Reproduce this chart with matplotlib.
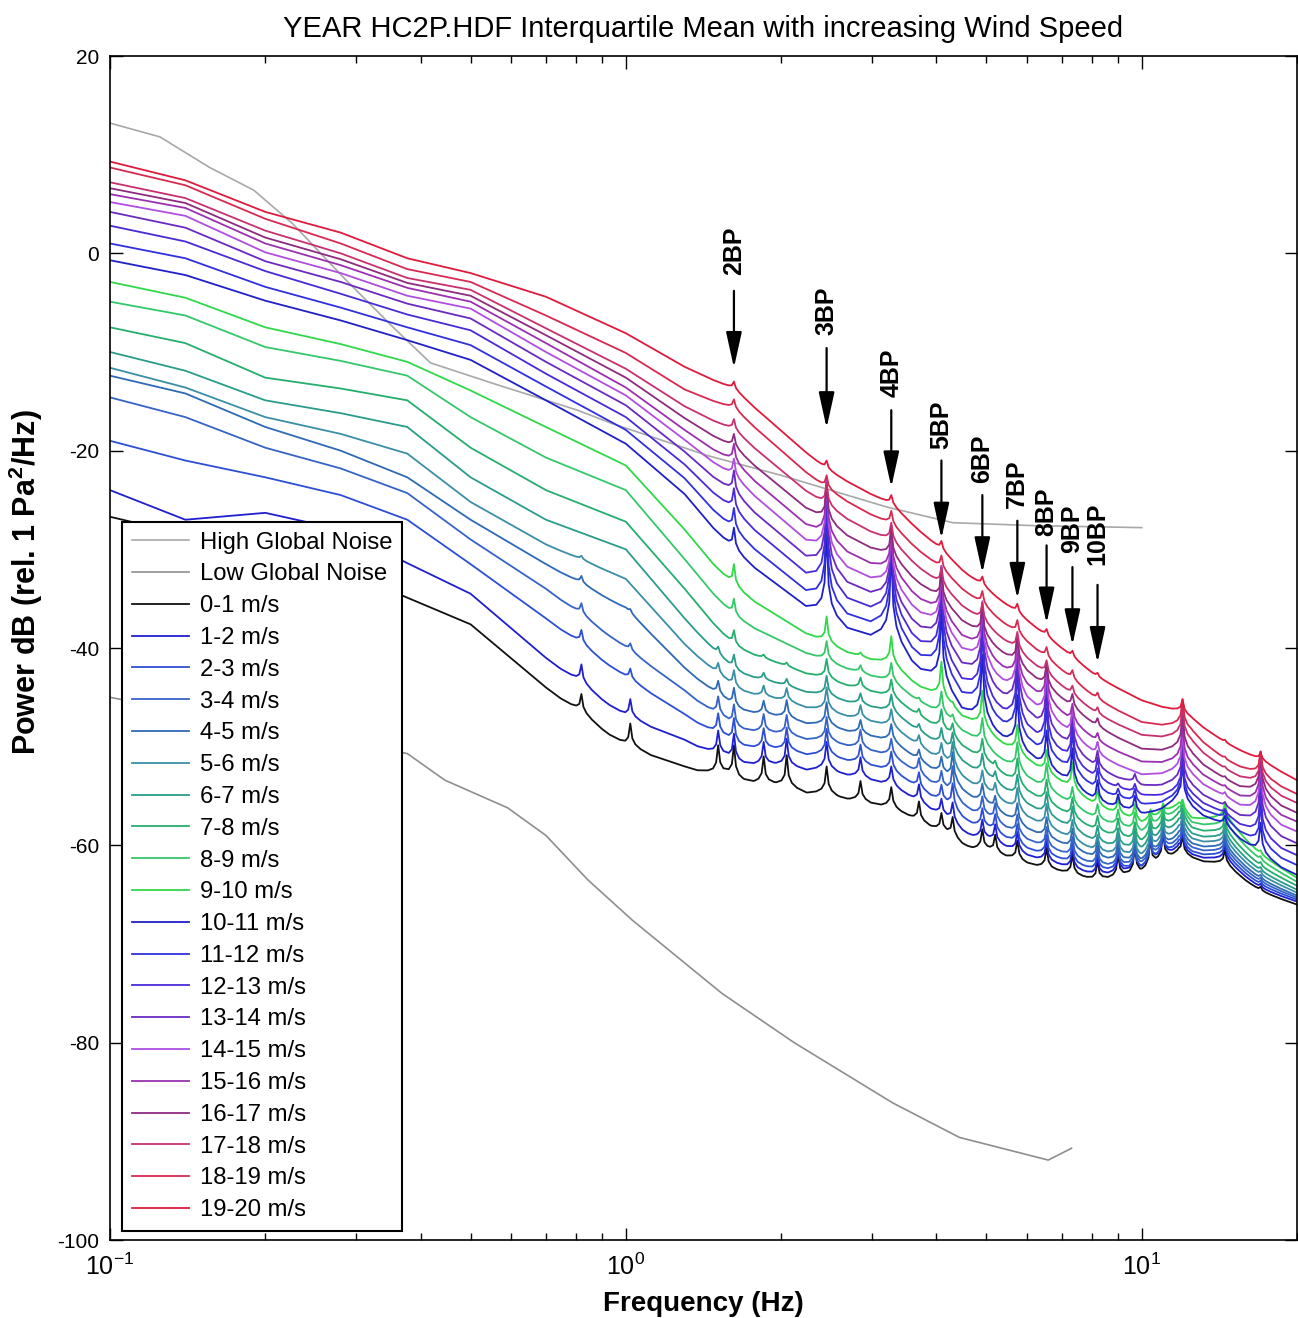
import numpy as np
import matplotlib
matplotlib.use('Agg')
import matplotlib.pyplot as plt

plt.rcParams['font.family'] = ['Liberation Sans', 'DejaVu Sans']
plt.rcParams['mathtext.fontset'] = 'custom'
plt.rcParams['mathtext.rm'] = 'Liberation Sans'
plt.rcParams['mathtext.bf'] = 'Liberation Sans:bold'
plt.rcParams['mathtext.it'] = 'Liberation Sans:italic'
plt.rcParams['axes.unicode_minus'] = False

# ---------------- data ----------------
# frequency grid (Hz) shared by all wind-speed curves
freq = [0.1, 0.14, 0.2, 0.28, 0.377, 0.5, 0.7, 1.0, 1.3, 1.62, 2.45,
        3.27, 4.6, 6.0, 8.2, 10.0, 11.8, 12.5, 14.5, 17.0, 20.0]

wind_labels = ['%d-%d m/s' % (i, i + 1) for i in range(20)]
wind_colors = ['#111111', '#1f1fd0', '#2d4fd6', '#3563c8', '#2e6ab5',
               '#3a8fa6', '#2a9d8a', '#25ae6e', '#34c86a', '#30d84a',
               '#2020c8', '#3030e0', '#4a2ad8', '#6a2ac0', '#b04ee0',
               '#9a30b0', '#8e2a80', '#c8306e', '#d82a50', '#e01a3c']

# base level (dB) of each wind-speed curve on the grid above, 0-1 m/s first
wind_db = [
    [-26.7, -28.5, -30.0, -32.0, -34.9, -37.6, -44.0, -50.0, -52.0, -53.5, -55.0, -56.3, -60.3, -62.0, -63.8, -63.3, -61.0, -61.4, -62.0, -64.7, -66.0],
    [-24.0, -27.0, -26.3, -28.0, -31.4, -34.5, -41.0, -47.0, -49.3, -51.8, -52.5, -54.0, -59.0, -61.2, -63.3, -63.0, -60.6, -61.1, -61.5, -64.4, -65.7],
    [-19.0, -21.0, -22.7, -24.5, -27.0, -31.5, -37.0, -43.0, -46.7, -50.0, -51.0, -52.5, -57.7, -60.5, -62.8, -62.8, -60.2, -60.8, -61.1, -64.1, -65.5],
    [-14.6, -16.6, -19.7, -21.8, -24.3, -29.0, -34.0, -40.0, -44.3, -48.3, -49.5, -51.0, -56.4, -59.6, -62.3, -62.4, -59.8, -60.4, -60.7, -63.8, -65.3],
    [-12.4, -14.2, -17.6, -20.0, -22.7, -27.0, -31.5, -36.0, -42.0, -46.3, -48.0, -49.5, -55.0, -58.5, -61.6, -62.0, -59.3, -60.0, -60.3, -63.5, -65.1],
    [-11.6, -13.6, -16.6, -18.3, -20.3, -25.2, -29.5, -33.0, -39.6, -44.3, -46.5, -48.0, -53.6, -57.3, -60.9, -61.5, -58.7, -59.5, -59.8, -63.1, -64.8],
    [-10.0, -11.9, -14.9, -16.2, -17.6, -22.7, -27.0, -30.0, -37.0, -42.5, -45.0, -46.5, -52.0, -56.0, -60.0, -60.8, -58.0, -59.0, -59.3, -62.7, -64.5],
    [-7.5, -9.1, -12.6, -13.7, -14.9, -19.7, -24.0, -27.2, -34.0, -40.0, -43.3, -45.0, -50.4, -54.7, -58.8, -60.0, -57.3, -58.4, -58.7, -62.2, -64.1],
    [-4.9, -6.3, -9.5, -10.9, -12.4, -16.6, -20.7, -24.0, -31.0, -37.0, -41.5, -43.5, -48.8, -53.3, -57.6, -59.0, -56.6, -57.8, -58.0, -61.6, -63.7],
    [-2.9, -4.5, -7.5, -9.2, -11.0, -13.9, -17.6, -21.5, -28.0, -34.0, -39.8, -41.8, -47.3, -51.5, -56.3, -58.0, -56.0, -57.3, -57.2, -61.0, -63.3],
    [-0.7, -2.2, -4.8, -6.8, -8.8, -10.8, -14.9, -19.3, -24.4, -30.3, -37.3, -39.3, -46.6, -51.0, -55.9, -57.0, -55.6, -56.4, -58.0, -61.2, -63.0],
    [1.0, -0.5, -3.4, -5.5, -7.5, -9.3, -13.5, -17.9, -22.8, -28.3, -35.8, -38.0, -45.0, -49.7, -54.7, -56.0, -55.2, -55.8, -57.4, -60.3, -62.0],
    [2.8, 1.2, -1.8, -4.1, -6.2, -7.8, -12.2, -16.6, -21.4, -26.3, -34.1, -36.6, -43.6, -48.5, -53.6, -55.0, -54.7, -55.1, -56.8, -59.3, -61.0],
    [4.2, 2.6, -0.8, -2.9, -5.1, -6.6, -11.0, -15.4, -20.1, -24.5, -32.4, -35.2, -42.0, -47.0, -52.4, -54.0, -53.7, -54.2, -56.1, -58.1, -59.8],
    [5.2, 3.8, 0.1, -2.0, -4.3, -5.6, -10.0, -14.4, -18.9, -22.8, -30.8, -33.8, -40.5, -45.6, -51.0, -52.8, -52.6, -53.1, -55.1, -57.0, -58.6],
    [6.0, 4.6, 1.0, -1.2, -3.5, -4.9, -9.1, -13.6, -17.9, -21.3, -29.2, -32.4, -39.2, -44.1, -49.6, -51.5, -51.6, -52.1, -54.2, -56.0, -57.6],
    [6.6, 5.1, 1.6, -0.6, -3.0, -4.3, -8.3, -12.6, -16.7, -19.8, -27.5, -30.9, -37.7, -42.6, -48.1, -50.2, -50.4, -51.0, -53.3, -55.0, -56.7],
    [7.2, 5.6, 2.3, 0.0, -2.5, -3.7, -7.6, -11.7, -15.5, -18.0, -25.8, -29.3, -36.2, -41.2, -46.8, -48.8, -49.1, -49.7, -52.3, -54.0, -55.7],
    [8.7, 6.9, 3.5, 1.0, -1.6, -2.9, -6.3, -10.1, -13.8, -15.8, -24.0, -27.6, -34.5, -39.5, -45.3, -47.5, -48.0, -48.6, -51.3, -53.0, -54.8],
    [9.3, 7.4, 4.2, 2.1, -0.5, -2.0, -4.4, -8.1, -11.5, -13.8, -22.0, -25.5, -32.6, -37.3, -43.0, -45.3, -46.5, -47.2, -49.6, -51.4, -53.4],
]

# narrow spectral peaks: frequency (Hz) and height above the curve (dB) for each wind bin
peak_freq = [0.82, 1.02, 1.51, 1.62, 1.85, 2.05, 2.45, 2.85, 3.27, 3.7, 4.09, 4.3,
             4.91, 5.2, 5.74, 6.54, 7.34, 8.21, 9.0, 9.7, 10.4, 11.0, 12.0, 14.5, 17.0]
peak_db = [
    [2.0, 2.0, 1.5, 1.2, 0.8, 0.4, 0, 0, 0, 0, 0, 0, 0, 0, 0, 0, 0, 0, 0, 0],
    [2.5, 2.0, 1.2, 0.8, 0.4, 0, 0, 0, 0, 0, 0, 0, 0, 0, 0, 0, 0, 0, 0, 0],
    [3.0, 2.5, 2.2, 2.0, 1.5, 1.2, 0.8, 0, 0, 0, 0, 0, 0, 0, 0, 0, 0, 0, 0, 0],
    [3.5, 3.0, 2.8, 2.5, 2.2, 2.0, 1.8, 1.8, 2.0, 2.5, 2.5, 2.5, 2.5, 2.5, 2.0, 2.0, 1.5, 1.2, 1.0, 0.8],
    [3.0, 2.5, 2.2, 2.0, 1.5, 1.2, 0.8, 0.4, 0, 0, 0, 0, 0, 0, 0, 0, 0, 0, 0, 0],
    [3.5, 3.0, 2.5, 2.2, 2.0, 1.5, 0.8, 0.4, 0, 0, 0, 0, 0, 0, 0, 0, 0, 0, 0, 0],
    [3.0, 3.0, 2.8, 2.5, 2.5, 2.5, 2.2, 2.2, 2.2, 3.0, 9.0, 10.0, 10.5, 9.5, 8.0, 6.0, 4.0, 2.5, 1.5, 1.0],
    [2.2, 2.2, 2.0, 2.0, 1.5, 1.5, 1.2, 1.2, 0.8, 0.4, 0, 0, 0, 0, 0, 0, 0, 0, 0, 0],
    [2.2, 2.0, 2.0, 1.8, 1.8, 1.8, 1.8, 1.8, 2.0, 3.0, 9.0, 9.5, 9.0, 7.5, 6.0, 4.5, 3.0, 2.0, 1.5, 1.0],
    [2.2, 2.0, 1.8, 1.8, 1.2, 1.2, 0.8, 0.8, 0.4, 0, 0, 0, 0, 0, 0, 0, 0, 0, 0, 0],
    [2.0, 1.8, 1.8, 1.8, 1.8, 1.8, 1.8, 2.2, 2.5, 4.0, 8.0, 9.0, 9.0, 8.0, 6.5, 5.0, 3.0, 2.0, 1.5, 1.0],
    [2.2, 2.2, 2.8, 3.2, 3.2, 2.8, 2.2, 1.5, 0.8, 0.4, 0, 0, 0, 0, 0, 0, 0, 0, 0, 0],
    [2.2, 2.0, 2.0, 2.0, 2.0, 2.0, 2.2, 2.2, 2.8, 4.0, 7.0, 8.0, 8.0, 7.5, 6.5, 5.0, 3.0, 2.0, 1.5, 1.0],
    [2.0, 2.0, 2.0, 2.0, 1.5, 1.5, 1.2, 0.8, 0, 0, 0, 0, 0, 0, 0, 0, 0, 0, 0, 0],
    [2.2, 2.2, 2.2, 2.2, 2.2, 2.5, 2.5, 2.8, 3.0, 3.0, 5.5, 6.5, 7.0, 7.0, 6.0, 4.5, 3.0, 2.0, 1.5, 1.0],
    [2.2, 2.2, 2.2, 2.2, 2.2, 2.5, 2.5, 2.5, 2.8, 2.5, 4.0, 5.0, 5.5, 5.5, 5.0, 4.0, 2.5, 1.5, 1.2, 0.8],
    [2.2, 2.2, 2.2, 2.2, 2.2, 2.2, 2.5, 2.2, 2.0, 3.0, 4.0, 4.5, 4.5, 4.0, 3.0, 2.0, 1.5, 1.0, 1.0, 0.7],
    [2.2, 2.2, 2.2, 2.2, 2.2, 2.0, 2.0, 1.8, 1.8, 2.0, 2.5, 2.5, 2.5, 2.0, 1.5, 1.0, 1.0, 0.8, 0.8, 0.5],
    [2.5, 2.5, 2.5, 2.2, 2.2, 2.2, 2.0, 2.0, 1.8, 1.8, 1.5, 1.0, 0.5, 0, 0, 0, 0, 0, 0, 0],
    [3.0, 3.0, 2.5, 2.5, 2.2, 2.2, 2.2, 2.0, 2.0, 1.8, 1.8, 1.5, 1.0, 1.0, 0, 0, 0, 0, 0, 0],
    [3.0, 3.0, 2.5, 2.5, 2.2, 2.2, 2.0, 1.8, 1.5, 1.0, 0, 0, 0, 0, 0, 0, 0, 0, 0, 0],
    [3.0, 3.0, 2.5, 2.5, 2.2, 2.2, 2.0, 1.8, 1.5, 1.0, 0, 0, 0, 0, 0, 0, 0, 0, 0, 0],
    [2.0, 2.0, 2.0, 2.0, 2.0, 2.0, 2.0, 2.0, 1.5, 1.0, 4.0, 4.0, 4.0, 4.0, 4.0, 4.0, 4.0, 3.5, 3.0, 1.5],
    [1.5, 1.5, 1.5, 1.5, 1.5, 1.5, 1.5, 1.5, 1.5, 1.5, 1.0, 1.0, 0.5, 0.5, 0.5, 0.3, 0.3, 0.3, 0.3, 0.3],
    [0.5, 0.5, 0.5, 0.5, 0.5, 0.5, 0.5, 0.5, 0.5, 0.5, 3.5, 4.5, 5.0, 5.5, 5.5, 5.0, 4.5, 3.5, 2.5, 0.8],
]

# global noise models
high_noise_f = [0.1, 0.125, 0.156, 0.19, 0.226, 0.283, 0.354, 0.418, 0.554, 0.806, 0.935, 1.44, 2.0, 3.2, 4.3, 6.2, 10.0]
high_noise_db = [13.2, 11.8, 8.7, 6.4, 3.0, -2.4, -7.5, -11.1, -13.2, -15.9, -17.2, -20.5, -22.5, -25.7, -27.3, -27.6, -27.8]
low_noise_f = [0.1, 0.2, 0.377, 0.446, 0.59, 0.7, 0.844, 1.03, 1.535, 2.12, 3.29, 4.43, 6.59, 7.31]
low_noise_db = [-45.0, -48.0, -50.7, -53.4, -56.2, -59.0, -63.5, -67.6, -75.0, -80.0, -86.1, -89.6, -91.9, -90.7]

# blade-pass annotations
bp_labels = ['2BP', '3BP', '4BP', '5BP', '6BP', '7BP', '8BP', '9BP', '10BP']
bp_freq = [1.62, 2.45, 3.27, 4.09, 4.91, 5.74, 6.54, 7.34, 8.21]
bp_text_db = [-2.2, -8.3, -14.6, -19.8, -23.3, -25.8, -28.6, -30.4, -31.6]
bp_tail_db = [-3.8, -9.6, -15.9, -21.0, -24.5, -27.1, -29.6, -31.8, -33.6]
bp_tip_db = [-11.6, -17.7, -23.7, -28.9, -32.4, -35.0, -37.5, -39.7, -41.5]

# ---------------- plotting ----------------
fig = plt.figure(figsize=(12.98, 13.18), dpi=100)
ax = fig.add_axes([110 / 1298, 78 / 1318, 1187 / 1298, 1184 / 1318])

ax.plot(high_noise_f, high_noise_db, color='#a8a8a8', lw=1.2, label='High Global Noise')
ax.plot(low_noise_f, low_noise_db, color='#8e8e8e', lw=1.2, label='Low Global Noise')

# shape of a spectral line in log10(f) units (fin-like)
pk_off = np.array([-0.04, -0.02, -0.01, -0.004, 0.0, 0.004, 0.01, 0.02, 0.04])
pk_frac = np.array([0.0, 0.10, 0.22, 0.42, 1.0, 0.42, 0.22, 0.10, 0.0])

lgrid = np.log10(freq)
lpk = np.log10(peak_freq)
for i in range(20):
    xs = [lgrid]
    for k in range(len(peak_freq)):
        if peak_db[k][i] > 0:
            xs.append(lpk[k] + pk_off)
    x = np.unique(np.concatenate(xs))
    y = np.interp(x, lgrid, wind_db[i])
    for k in range(len(peak_freq)):
        h = peak_db[k][i]
        if h > 0:
            y = y + h * np.interp(x - lpk[k], pk_off, pk_frac, left=0, right=0)
    ax.plot(10 ** x, y, color=wind_colors[i], lw=1.3, label=wind_labels[i])

for lab, f, t, a, b in zip(bp_labels, bp_freq, bp_text_db, bp_tail_db, bp_tip_db):
    ax.annotate('', xy=(f, b), xytext=(f, a),
                arrowprops=dict(arrowstyle='-|>,head_length=1.0,head_width=0.22',
                                color='black', lw=1.6, shrinkA=0, shrinkB=0,
                                mutation_scale=22))
    ax.text(f, t, lab, rotation=90, ha='center', va='bottom',
            fontsize=18, fontweight='bold')

ax.set_xscale('log')
ax.set_xlim(0.1, 20)
ax.set_ylim(-100, 20)
ax.set_yticks(np.arange(-100, 21, 20))
ax.tick_params(which='both', direction='in', top=True, right=True)
ax.tick_params(axis='y', labelsize=15, pad=8)
ax.tick_params(axis='x', labelsize=18, pad=10)
ax.tick_params(which='major', length=9, width=1.0)
ax.tick_params(which='minor', length=5, width=1.0)
for s in ax.spines.values():
    s.set_linewidth(1.2)

ax.set_title('YEAR HC2P.HDF Interquartile Mean with increasing Wind Speed',
             fontsize=21, pad=14)
ax.set_xlabel('Frequency (Hz)', fontsize=20, fontweight='bold', labelpad=8)
ax.set_ylabel(r'Power dB (rel. 1 Pa$^{\mathbf{2}}$/Hz)', fontsize=22,
              fontweight='bold')
ax.yaxis.set_label_coords(-0.055, 0.556)

leg = ax.legend(loc='upper left', bbox_to_anchor=(0.0101, 0.6064), fontsize=17.2,
                frameon=True, fancybox=False, edgecolor='black', framealpha=1,
                borderaxespad=0, handlelength=2.4, handletextpad=0.45,
                labelspacing=0.41, borderpad=0.4)
leg.get_frame().set_linewidth(1.5)

fig.savefig('out.png', dpi=100)
